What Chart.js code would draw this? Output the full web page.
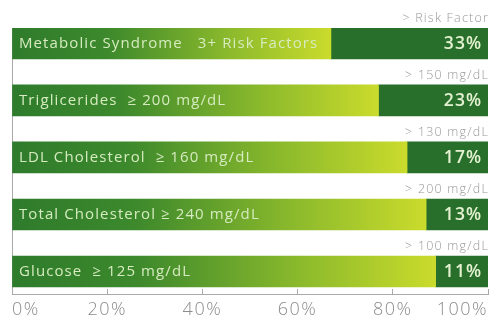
<!DOCTYPE html>
<html>
<head>
<meta charset="utf-8">
<title>Risk factor prevalence</title>
<script src="https://cdn.jsdelivr.net/npm/chart.js@4/dist/chart.umd.min.js"></script>
<style>
  html, body { margin: 0; padding: 0; background: #ffffff; }
  #wrap { width: 498px; height: 322px; }
</style>
</head>
<body>
<div id="wrap"><canvas id="chart" width="498" height="322"></canvas></div>
<script>
// Condition labels shown inside each bar
const conditions = [
  'Metabolic Syndrome   3+ Risk Factors',
  'Triglicerides  \u2265 200 mg/dL',
  'LDL Cholesterol  \u2265 160 mg/dL',
  'Total Cholesterol \u2265 240 mg/dL',
  'Glucose  \u2265 125 mg/dL'
];
// Threshold captions above the right end of each bar
const thresholds = [
  '> Risk Factor',
  '> 150 mg/dL',
  '> 130 mg/dL',
  '> 200 mg/dL',
  '> 100 mg/dL'
];
// Share of people with the condition (%)
const prevalence = [33, 23, 17, 13, 11];
// Remaining share, drawn as the gradient part of the bar
const remainder = prevalence.map(v => 100 - v);
// Axis tick values (%)
const xTicks = [0, 20, 40, 60, 80, 100];

const DARK = '#286f2b';
const AXIS = '#a9a9a9';
const FONT = '"Open Sans", Roboto, sans-serif';

function gradientFill(ctx) {
  const chart = ctx.chart;
  if (!chart.chartArea) return '#7cae2c';
  const xs = chart.scales.x;
  const x0 = xs.getPixelForValue(0);
  const x1 = xs.getPixelForValue(remainder[ctx.dataIndex]);
  const g = chart.ctx.createLinearGradient(x0, 0, x1, 0);
  g.addColorStop(0, '#2e7b2c');
  g.addColorStop(0.3, '#3d892c');
  g.addColorStop(0.7, '#8fbc2c');
  g.addColorStop(1, '#cadb2c');
  return g;
}

// Slightly spaced lettering for the axis tick labels
const tickSpacing = {
  id: 'tickSpacing',
  beforeDraw(chart) { chart.ctx.letterSpacing = '1.5px'; },
  afterDraw(chart) { chart.ctx.letterSpacing = '0px'; }
};

const barText = {
  id: 'barText',
  afterDatasetsDraw(chart) {
    const c = chart.ctx;
    const xs = chart.scales.x;
    const metaRest = chart.getDatasetMeta(0);
    c.save();
    metaRest.data.forEach((el, i) => {
      const top = el.y - el.height / 2;
      // condition name
      c.font = '400 15px ' + FONT;
      c.letterSpacing = '1.1px';
      c.fillStyle = '#d6ebbf';
      c.textAlign = 'left';
      c.textBaseline = 'middle';
      c.fillText(conditions[i], xs.getPixelForValue(0) + 7, el.y);
      // percentage
      c.font = '600 17.5px ' + FONT;
      c.letterSpacing = '1px';
      c.fillStyle = '#e4f2d2';
      c.textAlign = 'right';
      c.fillText(prevalence[i] + '%', xs.getPixelForValue(100) - 6, el.y + 1);
      // threshold caption
      c.font = '300 12.5px ' + FONT;
      c.letterSpacing = '1.2px';
      c.fillStyle = '#989898';
      c.textBaseline = 'alphabetic';
      c.fillText(thresholds[i], xs.getPixelForValue(100) + 1, top - 6);
    });
    c.restore();
  }
};

new Chart(document.getElementById('chart'), {
  type: 'bar',
  data: {
    datasets: [
      {
        label: 'Rest',
        data: remainder.map((v, i) => ({ x: v, y: i })),
        backgroundColor: gradientFill,
        borderWidth: 0,
        barThickness: 31
      },
      {
        label: 'Prevalence',
        data: prevalence.map((v, i) => ({ x: v, y: i })),
        backgroundColor: DARK,
        borderWidth: 0,
        barThickness: 31
      }
    ]
  },
  options: {
    indexAxis: 'y',
    responsive: false,
    animation: false,
    layout: { padding: { top: 28, left: 12, right: 7, bottom: 0 } },
    plugins: {
      legend: { display: false },
      tooltip: { enabled: false }
    },
    scales: {
      x: {
        type: 'linear',
        stacked: true,
        min: 0,
        max: 100,
        afterBuildTicks(scale) { scale.ticks = xTicks.map(v => ({ value: v })); },
        afterFit(scale) { scale.height = 28; },
        border: { display: true, color: AXIS, width: 1 },
        grid: {
          drawOnChartArea: false,
          drawTicks: true,
          tickLength: -5,
          color: AXIS
        },
        ticks: {
          align: 'inner',
          padding: 10,
          color: '#8c8c8c',
          font: { family: FONT, size: 18, weight: '300' },
          callback: v => v + '%'
        }
      },
      y: {
        type: 'linear',
        stacked: true,
        reverse: true,
        offset: false,
        min: -0.27,
        max: 4.395,
        border: { display: true, color: AXIS, width: 1 },
        grid: { display: false, drawTicks: false },
        ticks: { display: false }
      }
    }
  },
  plugins: [tickSpacing, barText]
});
</script>
</body>
</html>
